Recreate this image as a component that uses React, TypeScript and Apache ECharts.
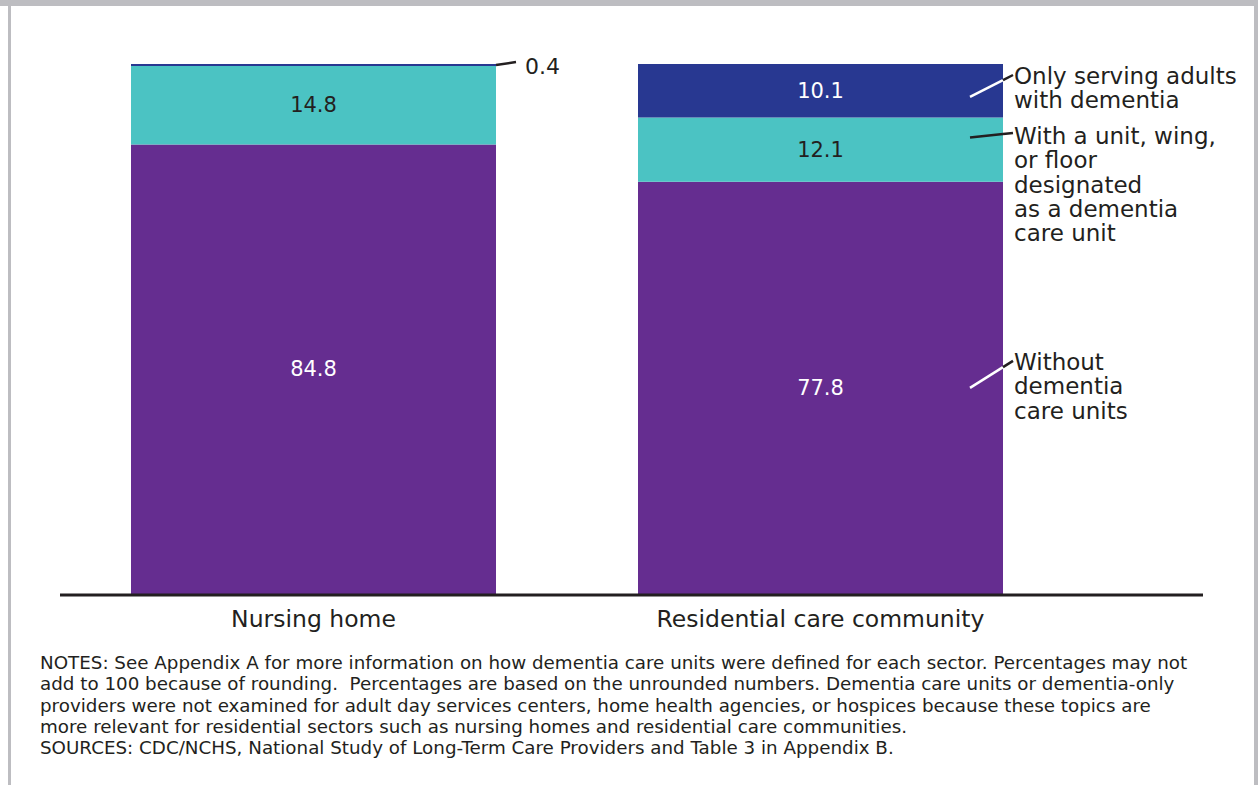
import React, { useEffect, useRef } from "react";
import * as echarts from "echarts";

const categories = ["Nursing home", "Residential care community"];
const withoutUnits = [84.8, 77.8];
const withUnit = [14.8, 12.1];
const onlyDementia = [0.4, 10.1];
const seriesNames = [
  "Without dementia care units",
  "With a unit, wing, or floor designated as a dementia care unit",
  "Only serving adults with dementia",
];
const annotationTexts = [
  "Without\ndementia\ncare units",
  "With a unit, wing,\nor floor\ndesignated\nas a dementia\ncare unit",
  "Only serving adults\nwith dementia",
];
const notesLines = [
  "NOTES: See Appendix A for more information on how dementia care units were defined for each sector. Percentages may not",
  "add to 100 because of rounding.  Percentages are based on the unrounded numbers. Dementia care units or dementia-only",
  "providers were not examined for adult day services centers, home health agencies, or hospices because these topics are",
  "more relevant for residential sectors such as nursing homes and residential care communities.",
  "SOURCES: CDC/NCHS, National Study of Long-Term Care Providers and Table 3 in Appendix B.",
];

const FONT = '"DejaVu Sans", sans-serif';
const PURPLE = "#652D90";
const TEAL = "#4BC3C3";
const NAVY = "#283891";
const DARK = "#231F20";
const FRAME = "#BDBDC1";
const BAR_W = 365;

export default function App() {
  const ref = useRef<HTMLDivElement>(null);
  useEffect(() => {
    document.body.style.margin = "0";
    const chart = echarts.init(ref.current!, null, { renderer: "svg" });
    const labelFmt = (p: any) => p.value.toFixed(1);
    const option: any = {
      animation: false,
      backgroundColor: "#fff",
      grid: { left: 60, right: 184, top: 64, bottom: 191 },
      xAxis: {
        type: "category",
        data: categories,
        axisLine: { show: false },
        axisTick: { show: false },
        axisLabel: { fontSize: 23.5, color: DARK, margin: 13, fontFamily: FONT },
      },
      yAxis: { type: "value", min: 0, max: 100, show: false },
      series: [
        {
          name: seriesNames[0],
          type: "bar",
          stack: "s",
          barWidth: BAR_W,
          data: withoutUnits,
          itemStyle: { color: PURPLE },
          label: { show: true, position: "inside", color: "#fff", fontSize: 21, fontFamily: FONT, formatter: labelFmt },
        },
        {
          name: seriesNames[1],
          type: "bar",
          stack: "s",
          data: withUnit,
          itemStyle: { color: TEAL },
          label: { show: true, position: "inside", color: DARK, fontSize: 21, fontFamily: FONT, formatter: labelFmt },
        },
        {
          name: seriesNames[2],
          type: "bar",
          stack: "s",
          data: onlyDementia.map((v, i) =>
            i === 0 ? { value: v, label: { show: false } } : v
          ),
          itemStyle: { color: NAVY },
          label: { show: true, position: "inside", color: "#fff", fontSize: 21, fontFamily: FONT, formatter: labelFmt },
        },
      ],
    };
    chart.setOption(option);

    const px = (ci: number, v: number) =>
      chart.convertToPixel({ xAxisIndex: 0, yAxisIndex: 0 }, [categories[ci], v]) as number[];

    const graphics: any[] = [];
    // frame
    graphics.push({ type: "rect", shape: { x: 0, y: 0, width: 1258, height: 6 }, style: { fill: FRAME }, silent: true });
    graphics.push({ type: "rect", shape: { x: 8, y: 0, width: 3, height: 785 }, style: { fill: FRAME }, silent: true });
    graphics.push({ type: "rect", shape: { x: 1254, y: 0, width: 4, height: 785 }, style: { fill: FRAME }, silent: true });
    // baseline
    const base = px(0, 0);
    graphics.push({
      type: "line",
      shape: { x1: 60, y1: base[1] + 1, x2: 1203, y2: base[1] + 1 },
      style: { stroke: DARK, lineWidth: 3 },
      z: 10,
    });

    // leader line helper: inside part coloured, outside part dark
    const leader = (x1: number, y1: number, x2: number, y2: number, edge: number, insideColor: string) => {
      if (x1 < edge) {
        const t = (edge - x1) / (x2 - x1);
        const ye = y1 + (y2 - y1) * t;
        graphics.push({ type: "line", shape: { x1, y1, x2: edge, y2: ye }, style: { stroke: insideColor, lineWidth: 2.5 }, z: 10 });
        graphics.push({ type: "line", shape: { x1: edge, y1: ye, x2, y2 }, style: { stroke: DARK, lineWidth: 2.5 }, z: 10 });
      } else {
        graphics.push({ type: "line", shape: { x1, y1, x2, y2 }, style: { stroke: DARK, lineWidth: 2.5 }, z: 10 });
      }
    };

    // nursing home 0.4 label
    const nTop = px(0, withoutUnits[0] + withUnit[0] + onlyDementia[0]);
    const nEdge = nTop[0] + BAR_W / 2;
    leader(nEdge, nTop[1] + 1, nEdge + 20, nTop[1] - 2, nEdge, DARK);
    graphics.push({
      type: "text",
      style: { text: onlyDementia[0].toFixed(1), x: nEdge + 29, y: nTop[1] + 2, fill: DARK, fontSize: 22, fontFamily: FONT, verticalAlign: "middle" },
      z: 10,
    });

    // residential annotations
    const r = 1;
    const segs = [
      { lo: 0, hi: withoutUnits[r], inside: "#fff" },
      { lo: withoutUnits[r], hi: withoutUnits[r] + withUnit[r], inside: DARK },
      { lo: withoutUnits[r] + withUnit[r], hi: withoutUnits[r] + withUnit[r] + onlyDementia[r], inside: "#fff" },
    ];
    const textTopOffset = [-38, 6.5, 0];
    const startDy = [0, -12, 6];
    const endDy = [-1, -3, -1];
    segs.forEach((s, i) => {
      const mid = px(r, (s.lo + s.hi) / 2);
      const hi = px(r, s.hi);
      const edge = mid[0] + BAR_W / 2;
      const textTop = i === 0 ? mid[1] + textTopOffset[i] : hi[1] + textTopOffset[i];
      const firstLineY = textTop + 12;
      leader(edge - 33, mid[1] + startDy[i], edge + 10, firstLineY + endDy[i], edge, s.inside);
      graphics.push({
        type: "text",
        style: {
          text: annotationTexts[i],
          x: edge + 11,
          y: textTop,
          fill: DARK,
          fontSize: 23,
          lineHeight: 24.3,
          fontFamily: FONT,
          verticalAlign: "top",
        },
        z: 10,
      });
    });

    graphics.push({
      type: "text",
      style: {
        text: notesLines.join("\n"),
        x: 40,
        y: 652,
        fill: DARK,
        fontSize: 18.3,
        lineHeight: 21.3,
        fontFamily: FONT,
        verticalAlign: "top",
      },
      z: 10,
    });

    chart.setOption({ graphic: graphics });
    return () => chart.dispose();
  }, []);
  return <div ref={ref} style={{ width: 1258, height: 785 }} />;
}
